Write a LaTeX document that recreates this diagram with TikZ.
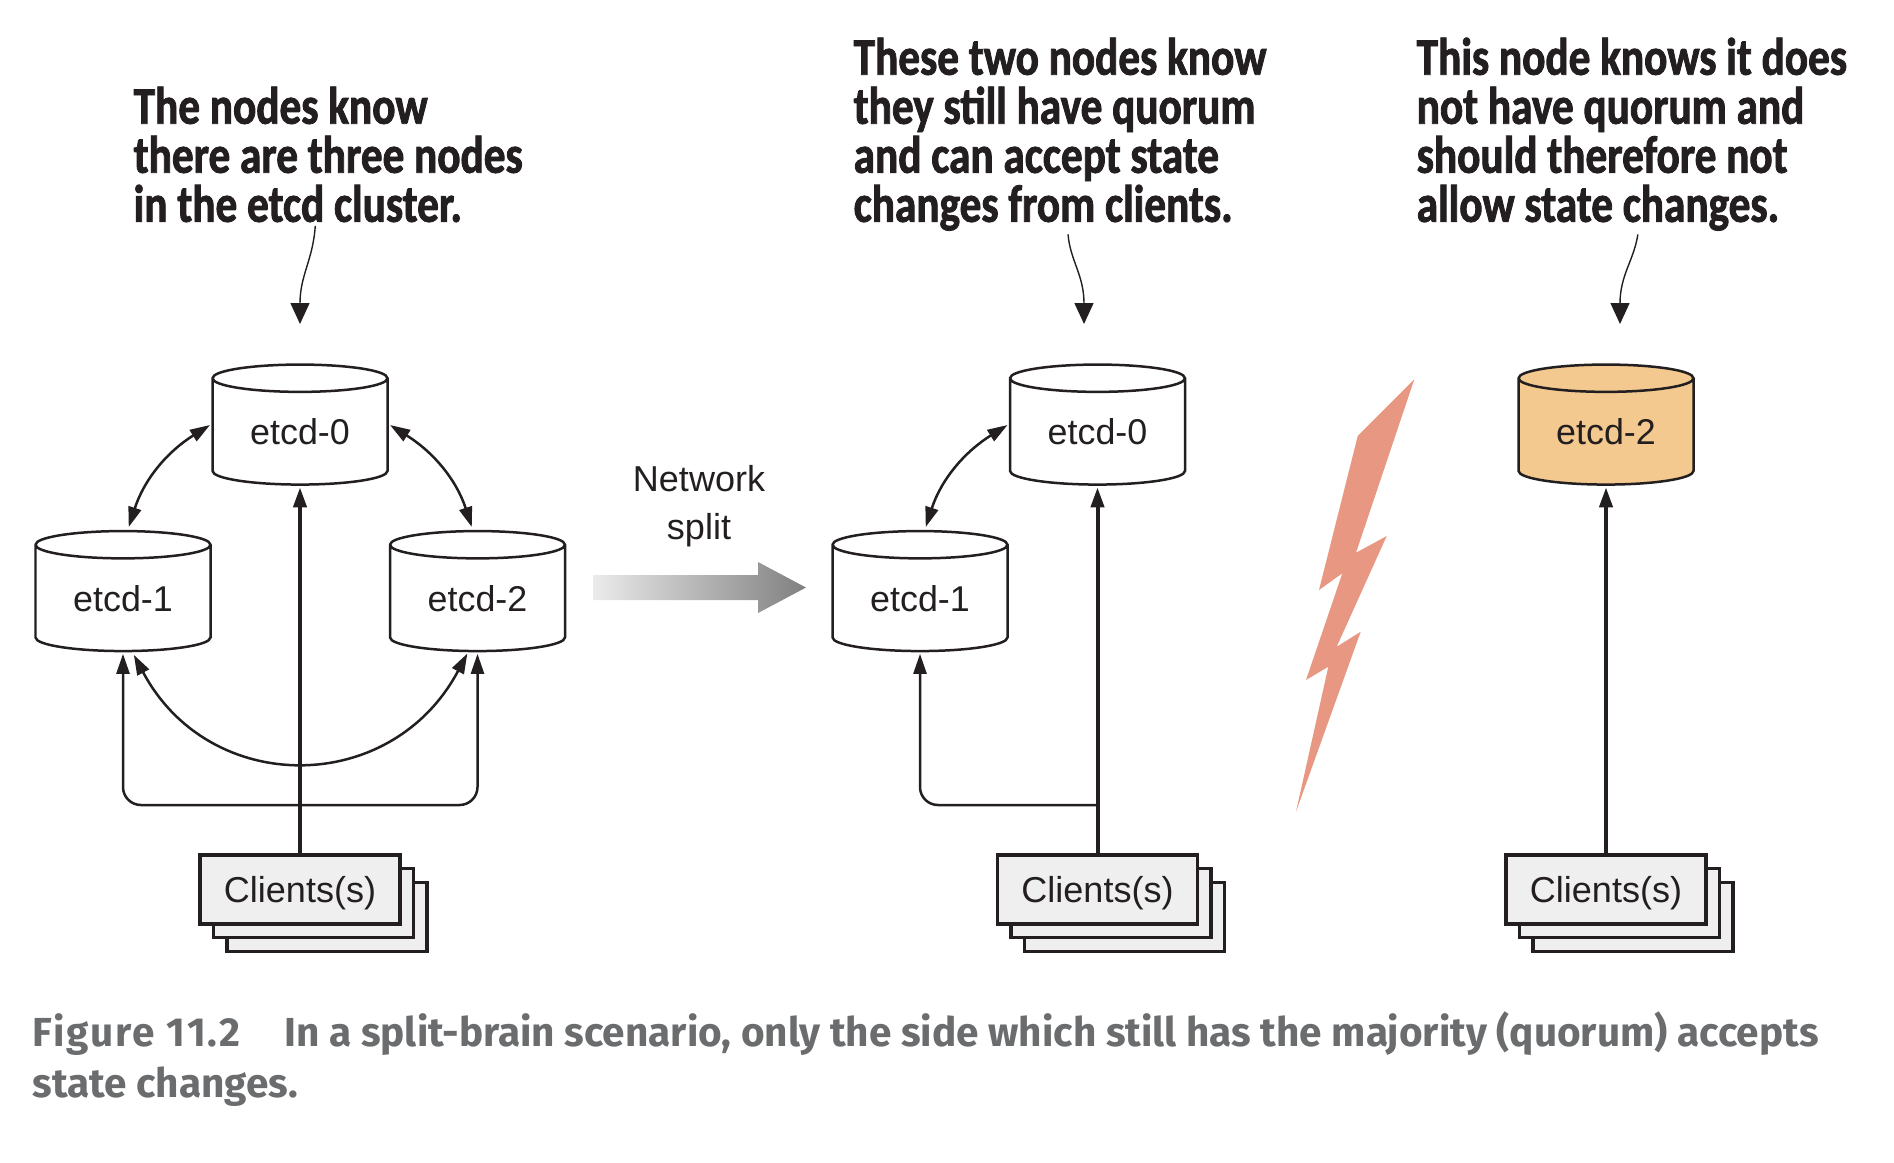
\documentclass[tikz,border=0pt]{standalone}
\usepackage{fontspec}
\usepackage{xcolor}
\usepackage{tikz}
\usetikzlibrary{arrows.meta,shapes.geometric}
\setmainfont{Liberation Sans}
\newfontfamily\notefont{Carlito}[FakeStretch=0.82,BoldFeatures={FakeBold=1.6}]
\newfontfamily\capfont{Fira Sans}
\newcommand{\notesetup}{\notefont\bfseries\fontsize{15}{13.95}\selectfont\setlength{\lineskiplimit}{-10pt}}
\definecolor{inkdark}{HTML}{231F20}
\definecolor{nodeorange}{HTML}{F3C98F}
\definecolor{boltred}{HTML}{E89882}
\definecolor{clientgray}{HTML}{EFEFEF}
\definecolor{capgray}{HTML}{6A6C6E}

\begin{document}
\begin{tikzpicture}
        \tikzstyle{etcd}=[cylinder, shape border rotate=90, aspect=0.274, draw=inkdark, line width=0.025cm, fill=white, minimum width=1.75cm, minimum height=1.20cm, inner sep=0pt, text=inkdark, font=\fontsize{10.2}{12}\selectfont]
        \tikzstyle{client}=[draw=inkdark, line width=0.036cm, fill=clientgray, minimum width=2.00cm, minimum height=0.69cm, inner sep=0pt, text=inkdark, font=\fontsize{10.25}{12}\selectfont, text height=0.30cm, text depth=0.036cm]
        \tikzstyle{note}=[anchor=north west, align=left, inner sep=0pt, text=inkdark, font=\notesetup]
        \tikzstyle{link}=[draw=inkdark, line width=0.025cm, -{Triangle[length=0.20cm,width=0.13cm]}, shorten >=0.015cm]
        \tikzstyle{bilink}=[draw=inkdark, line width=0.025cm, {Triangle[length=0.20cm,width=0.13cm]}-{Triangle[length=0.20cm,width=0.13cm]}, shorten >=0.015cm, shorten <=0.03cm]
        \tikzstyle{trunk}=[link, line width=0.04cm]
        \tikzstyle{callout}=[draw=inkdark, line width=0.014cm, -{Triangle[length=0.21cm,width=0.19cm]}]
        \useasboundingbox (0,0) rectangle (18.94,-11.62);

        % notes
        \node[note] (note0) at (1.33,-0.86) {The nodes know\\there are three nodes\\in the etcd cluster.};
        \node[note] (note1) at (8.53,-0.37) {These two nodes know\\they still have quorum\\and can accept state\\changes from clients.};
        \node[note] (note2) at (14.16,-0.37) {This node knows it does\\not have quorum and\\should therefore not\\allow state changes.};
        \coordinate (spot0) at (3.00,-3.24);
        \coordinate (spot1) at (10.84,-3.24);
        \coordinate (spot2) at (16.20,-3.24);
        \draw[callout] ([xshift=-0.13cm,yshift=-0.03cm]note0.south) .. controls (3.13,-2.60) and (3.00,-2.75) .. (spot0);
        \draw[callout] ([xshift=0.08cm,yshift=-0.03cm]note1.south) .. controls (10.70,-2.60) and (10.84,-2.75) .. (spot1);
        \draw[callout] ([xshift=0.06cm,yshift=-0.03cm]note2.south) .. controls (16.34,-2.60) and (16.20,-2.75) .. (spot2);

        % full cluster
        \node[etcd] (etcd0) at (3.00,-4.32) {etcd-0};
        \node[etcd] (etcd1) at (1.23,-5.985) {etcd-1};
        \node[etcd] (etcd2) at (4.775,-5.985) {etcd-2};
        \node[client] (clients0c) at (3.27,-9.17) {};
        \node[client] (clients0b) at (3.135,-9.03) {};
        \node[client] (clients0) at (3.00,-8.895) {Clients(s)};
        \coordinate (fork0) at (3.00,-8.05);
        \draw[trunk] (clients0) -- (etcd0);
        \draw[link, rounded corners=0.18cm] (fork0) -| (etcd1);
        \draw[link, rounded corners=0.18cm] (fork0) -| (etcd2);
        \draw[bilink] (etcd1.86) to[out=72, in=212] (etcd0.175);
        \draw[bilink] (etcd2.94) to[out=108, in=328] (etcd0.5);
        \draw[bilink] (etcd1.-80) to[out=-62, in=-118, looseness=1.25] (etcd2.-100);

        % the split
        \node[font=\fontsize{10.25}{13.7}\selectfont, text=inkdark, align=center, inner sep=0pt] (splitlabel) at (6.99,-5.06) {Network\\split};
        \shade[left color=black!8, right color=black!50] (5.93,-5.75) -- (7.58,-5.75) -- (7.58,-5.62) -- (8.06,-5.875) -- (7.58,-6.13) -- (7.58,-6.00) -- (5.93,-6.00) -- cycle;

        % side with quorum
        \node[etcd] (midetcd0) at (10.975,-4.32) {etcd-0};
        \node[etcd] (midetcd1) at (9.20,-5.985) {etcd-1};
        \node[client] (clients1c) at (11.245,-9.17) {};
        \node[client] (clients1b) at (11.11,-9.03) {};
        \node[client] (clients1) at (10.975,-8.895) {Clients(s)};
        \coordinate (fork1) at (10.975,-8.05);
        \draw[trunk] (clients1) -- (midetcd0);
        \draw[link, rounded corners=0.18cm] (fork1) -| (midetcd1);
        \draw[bilink] (midetcd1.86) to[out=72, in=212] (midetcd0.175);

        % the bolt
        \fill[boltred] (14.143,-3.793) -- (13.577,-4.36) -- (13.19,-5.90) -- (13.423,-5.733) -- (13.06,-6.80) -- (13.283,-6.667) -- (12.96,-8.117) -- (13.607,-6.317) -- (13.367,-6.467) -- (13.867,-5.36) -- (13.56,-5.527) -- cycle;

        % side without quorum
        \node[etcd, fill=nodeorange] (lastetcd2) at (16.06,-4.32) {etcd-2};
        \node[client] (clients2c) at (16.33,-9.17) {};
        \node[client] (clients2b) at (16.195,-9.03) {};
        \node[client] (clients2) at (16.06,-8.895) {Clients(s)};
        \draw[trunk] (clients2) -- (lastetcd2);

        % caption
        \node[anchor=base west, inner sep=0pt, align=left, text=capgray, font=\capfont\bfseries\fontsize{11.53}{14.4}\selectfont] (caption) at (0.32,-10.97) {{\addfontfeature{LetterSpace=5}Figure 11.2}\hspace{0.44cm}In a split-brain scenario, only the side which still has the majority (quorum) accepts\\state changes.};
    \end{tikzpicture}
\end{document}
